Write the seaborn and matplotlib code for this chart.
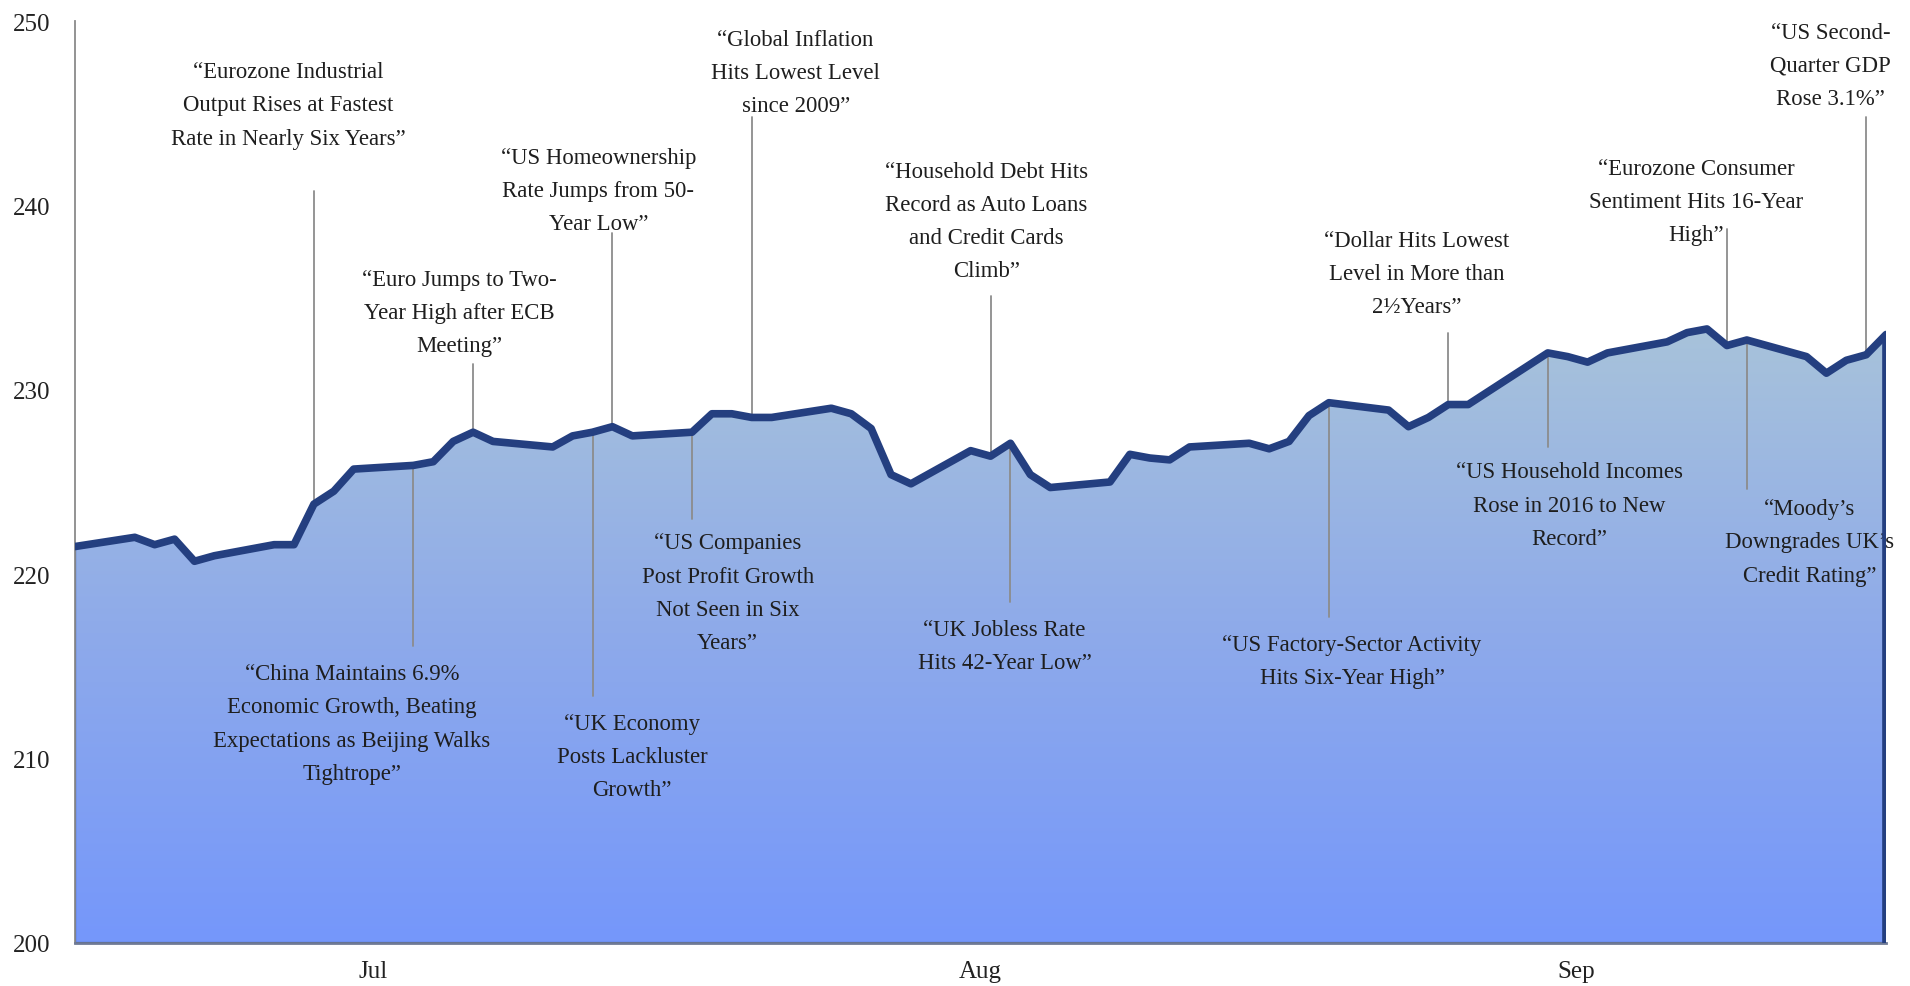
import numpy as np
import pandas as pd
import matplotlib
matplotlib.use("Agg")
import matplotlib.pyplot as plt
import matplotlib.dates as mdates
from matplotlib.colors import LinearSegmentedColormap
import seaborn as sns

# daily index values, Q3 2017 (business days)
dates = pd.to_datetime([
    "2017-06-30", "2017-07-03", "2017-07-04", "2017-07-05", "2017-07-06", "2017-07-07",
    "2017-07-10", "2017-07-11", "2017-07-12", "2017-07-13", "2017-07-14",
    "2017-07-17", "2017-07-18", "2017-07-19", "2017-07-20", "2017-07-21",
    "2017-07-24", "2017-07-25", "2017-07-26", "2017-07-27", "2017-07-28",
    "2017-07-31", "2017-08-01", "2017-08-02", "2017-08-03", "2017-08-04",
    "2017-08-07", "2017-08-08", "2017-08-09", "2017-08-10", "2017-08-11",
    "2017-08-14", "2017-08-15", "2017-08-16", "2017-08-17", "2017-08-18",
    "2017-08-21", "2017-08-22", "2017-08-23", "2017-08-24", "2017-08-25",
    "2017-08-28", "2017-08-29", "2017-08-30", "2017-08-31", "2017-09-01",
    "2017-09-04", "2017-09-05", "2017-09-06", "2017-09-07", "2017-09-08",
    "2017-09-11", "2017-09-12", "2017-09-13", "2017-09-14", "2017-09-15",
    "2017-09-18", "2017-09-19", "2017-09-20", "2017-09-21", "2017-09-22",
    "2017-09-25", "2017-09-26", "2017-09-27", "2017-09-28", "2017-09-29",
])
values = [
    221.5, 222.0, 221.6, 221.9, 220.7, 221.0,
    221.6, 221.6, 223.8, 224.5, 225.7,
    225.9, 226.1, 227.2, 227.7, 227.2,
    226.9, 227.5, 227.7, 228.0, 227.5,
    227.7, 228.7, 228.7, 228.5, 228.5,
    229.0, 228.7, 227.9, 225.4, 224.9,
    226.7, 226.4, 227.1, 225.4, 224.7,
    225.0, 226.5, 226.3, 226.2, 226.9,
    227.1, 226.8, 227.2, 228.6, 229.3,
    228.9, 228.0, 228.5, 229.2, 229.2,
    231.3, 232.0, 231.8, 231.5, 232.0,
    232.6, 233.1, 233.3, 232.4, 232.7,
    231.8, 230.9, 231.6, 231.9, 233.0,
]

month_labels = ["Jul", "Aug", "Sep"]
month_label_dates = pd.to_datetime(["2017-07-15 00:00", "2017-08-14 11:00", "2017-09-13 10:00"])
y_ticks = [200, 210, 220, 230, 240, 250]

# headlines and the day they point at
event_dates = pd.to_datetime([
    "2017-07-12", "2017-07-17", "2017-07-20", "2017-07-27", "2017-07-26",
    "2017-08-03", "2017-07-31", "2017-08-15", "2017-08-16", "2017-09-01",
    "2017-09-07", "2017-09-12", "2017-09-21", "2017-09-22", "2017-09-28",
])
event_texts = [
    "\u201cEurozone Industrial\nOutput Rises at Fastest\nRate in Nearly Six Years\u201d",
    "\u201cChina Maintains 6.9%\nEconomic Growth, Beating\nExpectations as Beijing Walks\nTightrope\u201d",
    "\u201cEuro Jumps to Two-\nYear High after ECB\nMeeting\u201d",
    "\u201cUS Homeownership\nRate Jumps from 50-\nYear Low\u201d",
    "\u201cUK Economy\nPosts Lackluster\nGrowth\u201d",
    "\u201cGlobal Inflation\nHits Lowest Level\nsince 2009\u201d",
    "\u201cUS Companies\nPost Profit Growth\nNot Seen in Six\nYears\u201d",
    "\u201cHousehold Debt Hits\nRecord as Auto Loans\nand Credit Cards\nClimb\u201d",
    "\u201cUK Jobless Rate\nHits 42-Year Low\u201d",
    "\u201cUS Factory-Sector Activity\nHits Six-Year High\u201d",
    "\u201cDollar Hits Lowest\nLevel in More than\n2\u00bdYears\u201d",
    "\u201cUS Household Incomes\nRose in 2016 to New\nRecord\u201d",
    "\u201cEurozone Consumer\nSentiment Hits 16-Year\nHigh\u201d",
    "\u201cMoody\u2019s\nDowngrades UK\u2019s\nCredit Rating\u201d",
    "\u201cUS Second-\nQuarter GDP\nRose 3.1%\u201d",
]

# layout of the callouts: leader line end, label centre
leader_end = [240.8, 216.1, 231.4, 238.5, 213.4, 244.8, 223.0, 235.1,
              218.5, 217.7, 233.1, 226.9, 238.7, 224.6, 244.8]
label_x = pd.to_datetime([
    "2017-07-10 17:00", "2017-07-13 22:00", "2017-07-19 07:00", "2017-07-26 07:00",
    "2017-07-28 00:00", "2017-08-05 05:00", "2017-08-01 19:00", "2017-08-14 19:00",
    "2017-08-15 17:00", "2017-09-02 04:00", "2017-09-05 10:00", "2017-09-13 02:00",
    "2017-09-19 11:00", "2017-09-25 04:00", "2017-09-26 05:00",
])
label_y = [245.45, 211.9, 234.2, 240.8, 210.1, 247.2, 219.0, 239.15,
           216.1, 215.3, 236.3, 223.75, 240.2, 221.75, 247.6]

line_color = "#243f80"

sns.set_style("white")
plt.rcParams["font.family"] = ["Liberation Serif", "DejaVu Serif"]

df = pd.DataFrame({"date": dates, "value": values})

fig = plt.figure(figsize=(19.1, 9.87), dpi=100)
ax = fig.add_axes([0.0393, 0.0436, 0.9482, 0.9341])

# area with vertical gradient
poly = ax.fill_between(df["date"], df["value"], 200, facecolor="none",
                       edgecolor=line_color, linewidth=1.5, zorder=2)
x0 = mdates.date2num(dates[0])
x1 = mdates.date2num(dates[-1])
cmap = LinearSegmentedColormap.from_list("area", ["#7597fb", "#8eaaea", "#a8c3da"])
grad = np.linspace(0, 1, 256).reshape(-1, 1)
im = ax.imshow(grad, extent=[x0, x1, 200, 233.6], origin="lower", cmap=cmap,
               aspect="auto", zorder=1, interpolation="bilinear")
im.set_clip_path(poly.get_paths()[0], transform=ax.transData)

sns.lineplot(data=df, x="date", y="value", color=line_color, linewidth=5.5,
             ax=ax, zorder=5)
ax.lines[-1].set_solid_joinstyle("round")
ax.vlines(dates[-1], 200, values[-1], color=line_color, linewidth=5.5, zorder=5)

# callouts
val_by_date = dict(zip(dates, values))
for d, txt, yend, tx, ty in zip(event_dates, event_texts, leader_end, label_x, label_y):
    ax.plot([d, d], [val_by_date[d], yend], color="#8c8c8c", linewidth=1.3, zorder=4)
    ax.text(tx, ty, txt, ha="center", va="center", fontsize=16.4, linespacing=1.76,
            color="#1e1e1e", zorder=3)

ax.set_xlim(x0, x1)
ax.set_ylim(200, 250)
ax.set_yticks(y_ticks)
ax.set_xticks(mdates.date2num(month_label_dates))
ax.set_xticklabels(month_labels)
ax.set_xlabel("")
ax.set_ylabel("")
ax.tick_params(axis="both", length=0, labelsize=18, labelcolor="#222222")
ax.tick_params(axis="y", pad=18)
ax.tick_params(axis="x", pad=12)

for s in ["top", "right"]:
    ax.spines[s].set_visible(False)
ax.spines["left"].set_color("#8a8a8a")
ax.spines["left"].set_linewidth(1.3)
ax.spines["bottom"].set_color("#6f7a95")
ax.spines["bottom"].set_linewidth(2.0)

fig.savefig("out.png", dpi=100)
